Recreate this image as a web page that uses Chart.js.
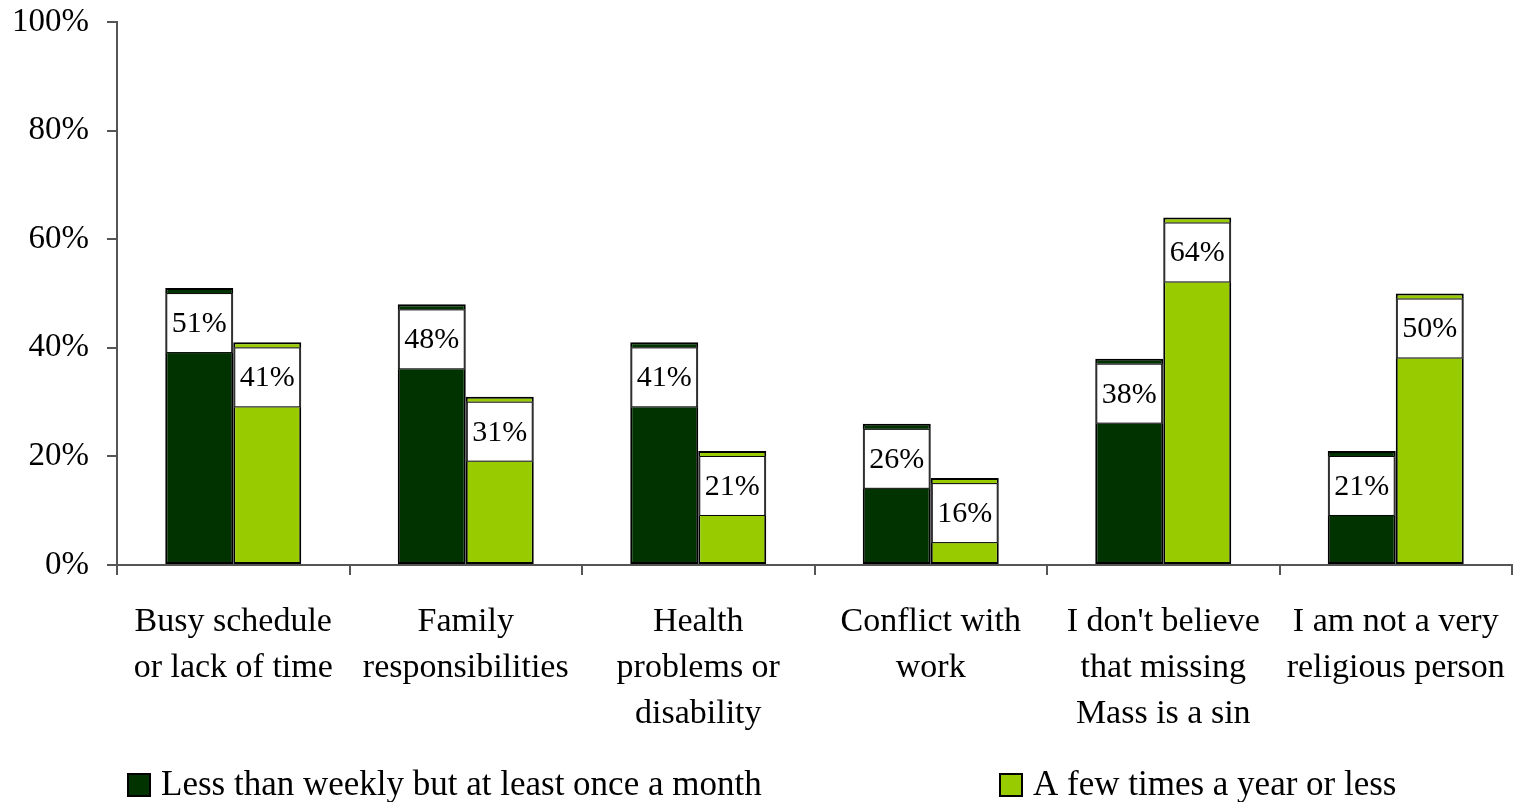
<!DOCTYPE html>
<html>
<head>
<meta charset="utf-8">
<script src="https://cdn.jsdelivr.net/npm/chart.js@4/dist/chart.umd.min.js"></script>
<style>
  html, body { margin: 0; padding: 0; background: #fff; }
  #wrap { width: 1520px; height: 802px; }
</style>
</head>
<body>
<div id="wrap"><canvas id="chart" width="1520" height="802"></canvas></div>
<script>
const categories = [
    ['Busy schedule', 'or lack of time'],
    ['Family', 'responsibilities'],
    ['Health', 'problems or', 'disability'],
    ['Conflict with', 'work'],
    ["I don't believe", 'that missing', 'Mass is a sin'],
    ['I am not a very', 'religious person']
];
const monthlyValues = [51, 48, 41, 26, 38, 21];
const yearlyValues = [41, 31, 21, 16, 64, 50];
const seriesNames = ['Less than weekly but at least once a month', 'A few times a year or less'];
const yTicks = [0, 20, 40, 60, 80, 100];

const FONT = "'Liberation Serif', 'Times New Roman', serif";

// white value boxes sitting just under the top of each bar
const valueBoxes = {
    id: 'valueBoxes',
    afterDatasetsDraw(chart) {
        const ctx = chart.ctx;
        ctx.save();
        chart.data.datasets.forEach((ds, di) => {
            chart.getDatasetMeta(di).data.forEach((bar, i) => {
                const left = bar.x - bar.width / 2 + 1;
                const w = bar.width - 2;
                const top = bar.y + 5;
                const h = 60;
                ctx.fillStyle = '#fff';
                ctx.fillRect(left, top, w, h);
                ctx.strokeStyle = '#000';
                ctx.lineWidth = 1;
                ctx.strokeRect(left + 0.5, top + 0.5, w - 1, h - 1);
                ctx.fillStyle = '#000';
                ctx.font = '30px ' + FONT;
                ctx.textAlign = 'center';
                ctx.textBaseline = 'middle';
                ctx.fillText(ds.data[i] + '%', bar.x, top + h / 2 + 1);
            });
        });
        ctx.restore();
    }
};

// legend spread along the bottom edge
const bottomLegend = {
    id: 'bottomLegend',
    afterDraw(chart) {
        const ctx = chart.ctx;
        const spots = [128, 1000];
        ctx.save();
        chart.data.datasets.forEach((ds, i) => {
            const x = spots[i];
            ctx.fillStyle = ds.backgroundColor;
            ctx.fillRect(x, 774, 22, 22);
            ctx.strokeStyle = '#000';
            ctx.lineWidth = 2;
            ctx.strokeRect(x, 774, 22, 22);
            ctx.fillStyle = '#000';
            ctx.font = '35px ' + FONT;
            ctx.textAlign = 'left';
            ctx.textBaseline = 'middle';
            ctx.fillText(ds.label, x + 33, 786);
        });
        ctx.restore();
    }
};

new Chart(document.getElementById('chart'), {
    type: 'bar',
    data: {
        labels: categories,
        datasets: [
            {
                label: seriesNames[0],
                data: monthlyValues,
                backgroundColor: '#003300',
                borderColor: '#000',
                borderWidth: 2,
                borderSkipped: false
            },
            {
                label: seriesNames[1],
                data: yearlyValues,
                backgroundColor: '#99cc00',
                borderColor: '#000',
                borderWidth: 2,
                borderSkipped: false
            }
        ]
    },
    options: {
        responsive: false,
        animation: false,
        devicePixelRatio: 1,
        datasets: { bar: { barPercentage: 1.0, categoryPercentage: 0.585 } },
        layout: { padding: { top: 22, right: 8, bottom: 0, left: 0 } },
        plugins: {
            legend: { display: false },
            tooltip: { enabled: false }
        },
        scales: {
            x: {
                grid: {
                    offset: true,
                    drawOnChartArea: false,
                    tickLength: 10,
                    color: '#555',
                    lineWidth: 2
                },
                border: { display: true, color: '#555', width: 2 },
                ticks: {
                    color: '#000',
                    font: { family: FONT, size: 34, lineHeight: 1.353 },
                    padding: 24,
                    maxRotation: 0,
                    autoSkip: false
                },
                afterFit(axis) {
                    axis.height = 237;
                    axis.paddingLeft = 0;
                    axis.paddingRight = 0;
                }
            },
            y: {
                min: 0,
                max: 100,
                afterBuildTicks(axis) { axis.ticks = yTicks.map(v => ({ value: v })); },
                grid: {
                    drawOnChartArea: false,
                    tickLength: 10,
                    color: '#555',
                    lineWidth: 2
                },
                border: { display: true, color: '#555', width: 2 },
                ticks: {
                    color: '#000',
                    font: { family: FONT, size: 33 },
                    padding: 18,
                    callback: v => v + '%'
                },
                afterFit(axis) {
                    axis.width = 117;
                    axis.paddingTop = 0;
                    axis.paddingBottom = 0;
                }
            }
        }
    },
    plugins: [valueBoxes, bottomLegend]
});
</script>
</body>
</html>
